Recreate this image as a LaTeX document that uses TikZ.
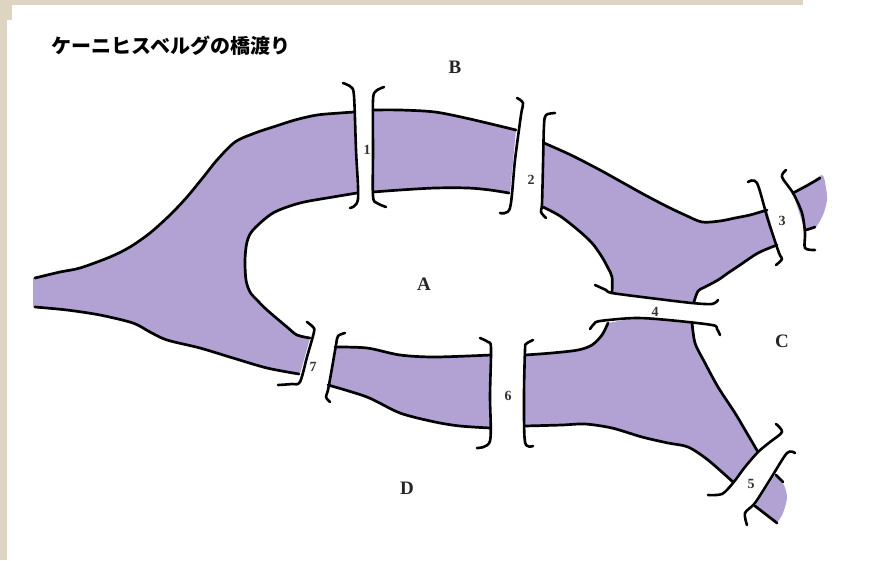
\documentclass[tikz,border=0pt]{standalone}
\usepackage{fontspec}
\setmainfont{Liberation Serif}
\newfontfamily\jpfont{Noto Sans CJK JP}
\definecolor{river}{RGB}{178,162,212}
\definecolor{paper}{RGB}{222,212,194}

\begin{document}
\begin{tikzpicture}[x=1pt, y=-1pt, line join=round, line cap=round,
	shore/.style={line width=2.7pt},
	rail/.style={line width=2.6pt},
	land/.style={font=\bfseries\fontsize{19}{19}\selectfont, text=black!85},
	bridge/.style={font=\bfseries\fontsize{14}{14}\selectfont, text=black!80, inner sep=0pt}]
	\useasboundingbox (0,0) rectangle (870,560);
	\fill[paper] (0,0) rectangle (803,5);
	\fill[paper] (0,0) rectangle (7,560);
	\fill[paper] (0,0) rectangle (12,20);
	\node[anchor=west, font=\jpfont\bfseries\fontsize{20}{20}\selectfont] (title) at (48,46) {ケーニヒスベルグの橋渡り};
	% water
	\fill[river] plot[smooth] coordinates {(33,278) (60,272) (80,268) (110,257) (130,247) (150,233) (170,215) (187,197) (205,175) (217,160) (235,142) (255,133) (273,127) (295,120) (317,115) (340,113) (354,112)}
		-- (357,193) -- plot[smooth] coordinates {(357,193) (333,197) (300,203) (273,213) (253,230) (247,242) (245,260) (246,280) (250,292) (257,300) (267,310) (287,327) (297,335) (310,338)}
		-- (300,374) -- plot[smooth] coordinates {(299,374) (267,368) (233,358) (200,348) (167,340) (150,332) (133,323) (100,315) (67,310) (33,307)} -- cycle;
	\fill[river] plot[smooth] coordinates {(373,110) (400,110) (435,112) (470,119) (516,130)}
		-- (510,193) -- plot[smooth] coordinates {(509,193) (490,190) (468,188) (435,188) (400,190) (373,192)} -- cycle;
	\fill[river] plot[smooth] coordinates {(544,143) (560,150) (575,157) (600,170) (618,180) (645,195) (668,207) (685,215) (702,222) (720,221) (735,218) (750,215) (767,210)}
		-- (777,246) -- plot[smooth] coordinates {(777,245) (758,253) (740,265) (728,273) (718,280) (705,287) (698,291) (694,302)}
		-- (612,293) -- plot[smooth] coordinates {(612,293) (612,277) (608,268) (602,257) (592,243) (578,230) (560,216) (543,207)} -- cycle;
	\fill[river] (793,193) -- plot[smooth] coordinates {(793,193) (808,185) (822,175) (826,188) (827,200) (823,215) (815,228) (805,231)} -- cycle;
	\fill[river] plot[smooth] coordinates {(525,355) (552,353) (578,350) (592,345) (602,335) (608,323)}
		-- (635,318) -- (668,320) -- (692,322) -- plot[smooth] coordinates {(692,322) (695,343) (705,363) (718,387) (735,413) (748,435) (758,452)}
		-- (733,483) -- plot[smooth] coordinates {(733,482) (708,460) (688,447) (668,443) (642,437) (612,428) (585,424) (562,425) (525,426)} -- cycle;
	\fill[river] (775,475) -- plot[smooth] coordinates {(775,475) (783,483) (787,497) (783,513) (777,523)} -- (755,506) -- cycle;
	\fill[river] plot[smooth] coordinates {(335,347) (367,348) (400,355) (435,357) (491,355)}
		-- (490,428) -- plot[smooth] coordinates {(490,428) (460,426) (435,422) (400,413) (367,397) (328,385)} -- cycle;
	% banks
	\draw[shore] plot[smooth] coordinates {(35,278) (60,272) (80,268) (110,257) (130,247) (150,233) (170,215) (187,197) (205,175) (217,160) (235,142) (255,133) (273,127) (295,120) (317,115) (340,113) (354,112)};
	\draw[shore] plot[smooth] coordinates {(357,193) (333,197) (300,203) (273,213) (253,230) (247,242) (245,260) (246,280) (250,292) (257,300) (267,310) (287,327) (297,335) (310,338)};
	\draw[shore] plot[smooth] coordinates {(299,374) (267,368) (233,358) (200,348) (167,340) (150,332) (133,323) (100,315) (67,310) (35,307)};
	\draw[shore] plot[smooth] coordinates {(373,110) (400,110) (435,112) (470,119) (516,130)};
	\draw[shore] plot[smooth] coordinates {(509,193) (490,190) (468,188) (435,188) (400,190) (373,192)};
	\draw[shore] plot[smooth] coordinates {(544,143) (560,150) (575,157) (600,170) (618,180) (645,195) (668,207) (685,215) (702,222) (720,221) (735,218) (750,215) (767,210)};
	\draw[shore] plot[smooth] coordinates {(777,245) (758,253) (740,265) (728,273) (718,280) (705,287) (698,291) (694,302)};
	\draw[shore] plot[smooth] coordinates {(612,293) (612,277) (608,268) (602,257) (592,243) (578,230) (560,216) (543,207)};
	\draw[shore] plot[smooth] coordinates {(793,193) (808,185) (820,178)};
	\draw[shore] (806,230) -- (815,227);
	\draw[shore] plot[smooth] coordinates {(525,355) (552,353) (578,350) (592,345) (602,335) (608,323)};
	\draw[shore] plot[smooth] coordinates {(692,322) (695,343) (705,363) (718,387) (735,413) (748,435) (758,452)};
	\draw[shore] plot[smooth] coordinates {(733,482) (708,460) (688,447) (668,443) (642,437) (612,428) (585,424) (562,425) (525,426)};
	\draw[shore] (776,475) -- (783,482);
	\draw[shore] (755,506) -- (777,523);
	\draw[shore] plot[smooth] coordinates {(335,347) (367,348) (400,355) (435,357) (491,355)};
	\draw[shore] plot[smooth] coordinates {(490,428) (460,426) (435,422) (400,413) (367,397) (328,385)};
	% bridges
	\draw[rail] plot[smooth, tension=.5] coordinates {(343,83) (351,87) (354,96) (356,150) (358,199) (350,208)};
	\draw[rail] plot[smooth, tension=.5] coordinates {(384,87) (376,91) (373,100) (373,150) (373,196) (377,203) (386,207)};
	\draw[rail] plot[smooth, tension=.5] coordinates {(517,98) (523,103) (521,115) (515,160) (510,208) (500,213)};
	\draw[rail] plot[smooth, tension=.5] coordinates {(555,113) (546,115) (544,125) (543,165) (542,204) (541,212) (546,218)};
	\draw[rail] plot[smooth, tension=.5] coordinates {(748,182) (757,183) (768,220) (779,253) (782,259) (776,265)};
	\draw[rail] plot[smooth, tension=.5] coordinates {(786,170) (782,177) (793,193) (802,213) (805,233) (805,248) (815,250)};
	\draw[rail] plot[smooth, tension=.5] coordinates {(595,285) (606,290) (612,293) (650,298) (692,303) (712,304) (718,300)};
	\draw[rail] plot[smooth, tension=.5] coordinates {(590,329) (594,324) (600,321) (635,318) (668,320) (712,325) (717,329) (720,335)};
	\draw[rail] plot[smooth, tension=.5] coordinates {(776,424) (782,432) (770,442) (758,452) (745,467) (733,483) (722,494) (708,495)};
	\draw[rail] plot[smooth, tension=.5] coordinates {(795,453) (787,453) (771,478) (755,503) (745,513) (747,525)};
	\draw[rail] plot[smooth, tension=.5] coordinates {(480,338) (488,342) (491,348) (490,395) (490,441) (477,448)};
	\draw[rail] plot[smooth, tension=.5] coordinates {(533,340) (526,344) (525,350) (524,395) (525,442) (533,446)};
	\draw[rail] plot[smooth, tension=.5] coordinates {(307,322) (313,327) (314,332) (307,357) (300,382) (292,384) (278,385)};
	\draw[rail] plot[smooth, tension=.5] coordinates {(345,333) (338,336) (336,345) (332,368) (328,390) (326,397) (330,402)};
	% land and bridge labels
	\node[land] (A) at (424,284) {A};
	\node[land] (B) at (455,67) {B};
	\node[land] (C) at (782,341) {C};
	\node[land] (D) at (407,488) {D};
	\foreach \n/\x/\y in {1/367/150, 2/531/180, 3/782/221, 4/655/312, 5/751/484, 6/508/396, 7/313/367}
		\node[bridge] (b\n) at (\x,\y) {\n};
\end{tikzpicture}
\end{document}
